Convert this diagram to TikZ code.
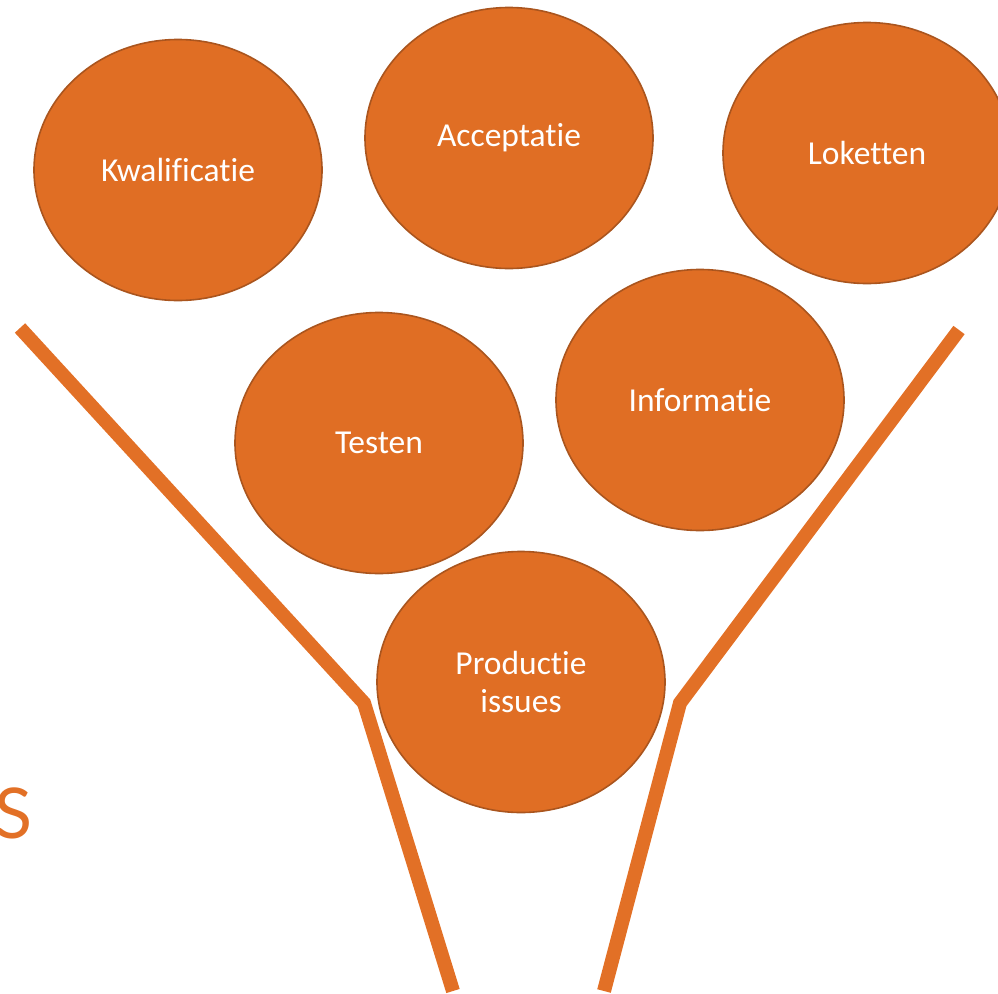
\documentclass[tikz,border=0pt]{standalone}
\usepackage{fontspec}
\setmainfont{Carlito}[Ligatures={NoCommon,NoContextual}]
\newfontfamily\lightfont{Lato}
\usetikzlibrary{shapes.geometric}
\definecolor{orfill}{RGB}{224,110,36}
\definecolor{ordraw}{RGB}{170,85,30}
\definecolor{orline}{RGB}{226,112,38}
\begin{document}
\begin{tikzpicture}[x=1pt,y=-1pt,
  bubble/.style={ellipse,fill=orfill,draw=ordraw,line width=1.6pt,minimum width=288pt,minimum height=261pt,inner sep=0pt,text=white,font=\fontsize{33.5}{38}\selectfont,align=center},
  funnel/.style={draw=orline,line width=14pt,line join=miter,line cap=butt}]
\useasboundingbox (0,0) rectangle (998,993);
\begin{scope}
\clip (0,0) rectangle (998,993);
\coordinate (l1) at (20,328);
\coordinate (l2) at (364,703);
\coordinate (l3) at (453,991);
\coordinate (r1) at (959,330);
\coordinate (r2) at (680,703);
\coordinate (r3) at (604,991);
\draw[funnel] (l1) -- (l2) -- (l3);
\draw[funnel] (r1) -- (r2) -- (r3);
\node[bubble] (kw) at (178,170) {Kwalificatie};
\node[bubble] (ac) at (509,138) {Acceptatie};
\node[bubble] (lo) at (867,153) {Loketten};
\node[bubble] (te) at (379,443) {Testen};
\node[bubble] (in) at (700,400) {Informatie};
\node[bubble] (pr) at (521,682) {Productie\\issues};
\node[anchor=west,inner sep=0pt,text=orline,font=\lightfont\fontsize{70}{80}\selectfont] (s) at (-6,813) {S};
\end{scope}
\end{tikzpicture}
\end{document}
